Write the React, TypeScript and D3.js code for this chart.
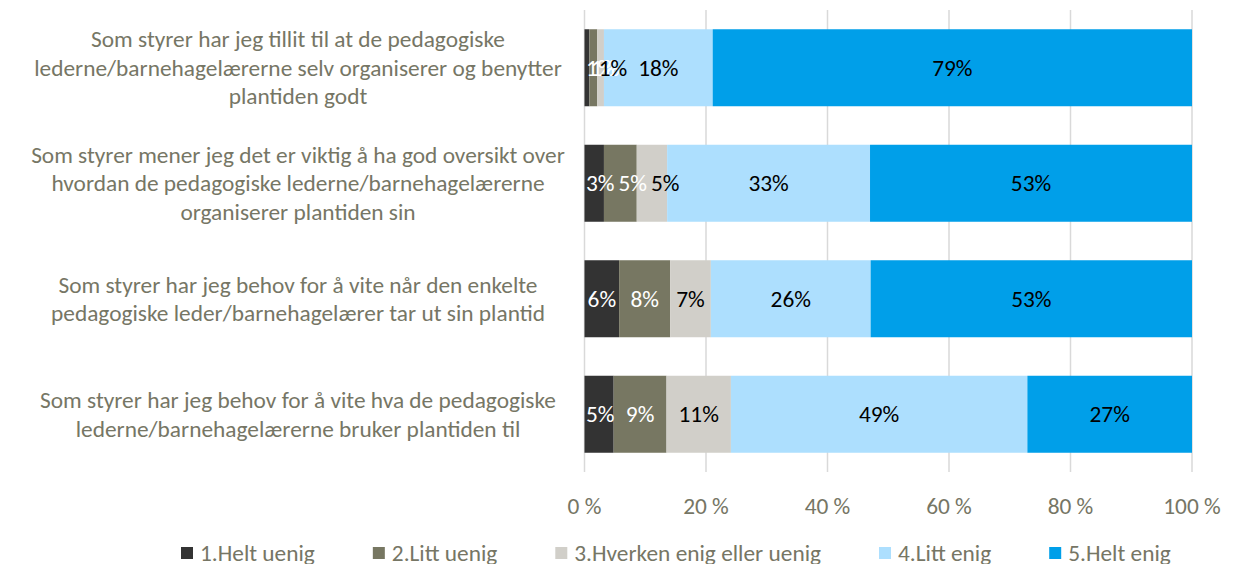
import React from "react";
import * as d3 from "d3";

const categories: string[][] = [
  ["Som styrer har jeg tillit til at de pedagogiske", "lederne/barnehagelærerne selv organiserer og benytter", "plantiden godt"],
  ["Som styrer mener jeg det er viktig å ha god oversikt over", "hvordan de pedagogiske lederne/barnehagelærerne", "organiserer plantiden sin"],
  ["Som styrer har jeg behov for å vite når den enkelte", "pedagogiske leder/barnehagelærer tar ut sin plantid"],
  ["Som styrer har jeg behov for å vite hva de pedagogiske", "lederne/barnehagelærerne bruker plantiden til"],
];

const seriesNames = ["1.Helt uenig", "2.Litt uenig", "3.Hverken enig eller uenig", "4.Litt enig", "5.Helt enig"];
const heltUenig = [0.8, 3.2, 5.7, 4.8];
const littUenig = [1.3, 5.4, 8.4, 8.7];
const hverken = [1.1, 5.0, 6.7, 10.6];
const littEnig = [17.9, 33.4, 26.3, 48.8];
const heltEnig = [78.9, 53.0, 52.9, 27.1];
const seriesValues = [heltUenig, littUenig, hverken, littEnig, heltEnig];
const seriesColors = ["#333333", "#777762", "#d1cfc9", "#addffe", "#009fe9"];
const labelColors = ["#ffffff", "#ffffff", "#000000", "#000000", "#000000"];
const xTicks = [0, 20, 40, 60, 80, 100];

const FAMILY = "Carlito, Calibri, Lato, 'Open Sans', sans-serif";
const TEXT_COLOR = "#767665";

let ctx: CanvasRenderingContext2D | null = null;
function measure(text: string, size: number) {
  if (!ctx) ctx = document.createElement("canvas").getContext("2d");
  if (!ctx) return text.length * size * 0.45;
  ctx.font = `${size}px ${FAMILY}`;
  return ctx.measureText(text).width;
}

export default function App() {
  const W = 1235, H = 564;
  const refW = measure(categories[0][1], 23);
  const fs = 23 * 528 / refW;

  const x = d3.scaleLinear().domain([0, 100]).range([584.5, 1192]);
  const y = d3.scaleBand<number>().domain(categories.map((_, i) => i)).range([10, 472]).paddingInner(1 / 3).paddingOuter(1 / 6);

  const stackData = categories.map((_, i) => {
    const row: any = { i };
    seriesNames.forEach((n, s) => (row[n] = seriesValues[s][i]));
    return row;
  });
  const stacked = d3.stack<any>().keys(seriesNames)(stackData);

  // labels
  const labels: any[] = [];
  categories.forEach((_, i) => {
    let prevRight = -Infinity;
    stacked.forEach((layer, s) => {
      const [a, b] = layer[i];
      const x0 = x(a), x1 = x(b);
      const txt = `${Math.round(b - a)}%`;
      const w = measure(txt, fs);
      let left = Math.max((x0 + x1) / 2 - w / 2, x0 + 1.5);
      if (x1 - x0 >= 15 && left < prevRight + 4) left = prevRight + 4;
      prevRight = left + w;
      labels.push({ key: `${i}-${s}`, x: left, y: (y(i) as number) + y.bandwidth() / 2, txt, color: labelColors[s] });
    });
  });

  // legend
  const legendItems: any[] = [];
  let lx = 181;
  seriesNames.forEach((n, s) => {
    const tw = measure(n, fs);
    legendItems.push({ n, s, x: lx });
    lx += 19 + tw + 58;
  });

  return (
    <svg width={W} height={H} style={{ position: "absolute", left: 0, top: 0, fontFamily: FAMILY }}>
      <rect width={W} height={H} fill="#ffffff" />
      {xTicks.map((t) => (
        <line key={t} x1={x(t)} x2={x(t)} y1={10} y2={472} stroke="#d9d9d9" strokeWidth={1.5} />
      ))}
      {stacked.map((layer, s) =>
        layer.map((d, i) => (
          <rect key={`${s}-${i}`} x={x(d[0])} y={y(i)} width={x(d[1]) - x(d[0])} height={y.bandwidth()} fill={seriesColors[s]} />
        ))
      )}
      {labels.map((l) => (
        <text key={l.key} x={l.x} y={l.y} dy="0.35em" fontSize={fs} fill={l.color}>{l.txt}</text>
      ))}
      {categories.map((lines, i) => {
        const cy = (y(i) as number) + y.bandwidth() / 2;
        const lh = 28.5;
        return lines.map((ln, k) => (
          <text key={`${i}-${k}`} x={298} y={cy + (k - (lines.length - 1) / 2) * lh} dy="0.35em" textAnchor="middle" fontSize={fs} fill={TEXT_COLOR}>{ln}</text>
        ));
      })}
      {xTicks.map((t) => (
        <text key={`t${t}`} x={x(t)} y={506} dy="0.35em" textAnchor="middle" fontSize={fs} fill={TEXT_COLOR}>{`${t} %`}</text>
      ))}
      {legendItems.map((it) => (
        <g key={it.n}>
          <rect x={it.x} y={547} width={12} height={12} fill={seriesColors[it.s]} />
          <text x={it.x + 19} y={553} dy="0.35em" fontSize={fs} fill={TEXT_COLOR}>{it.n}</text>
        </g>
      ))}
    </svg>
  );
}
